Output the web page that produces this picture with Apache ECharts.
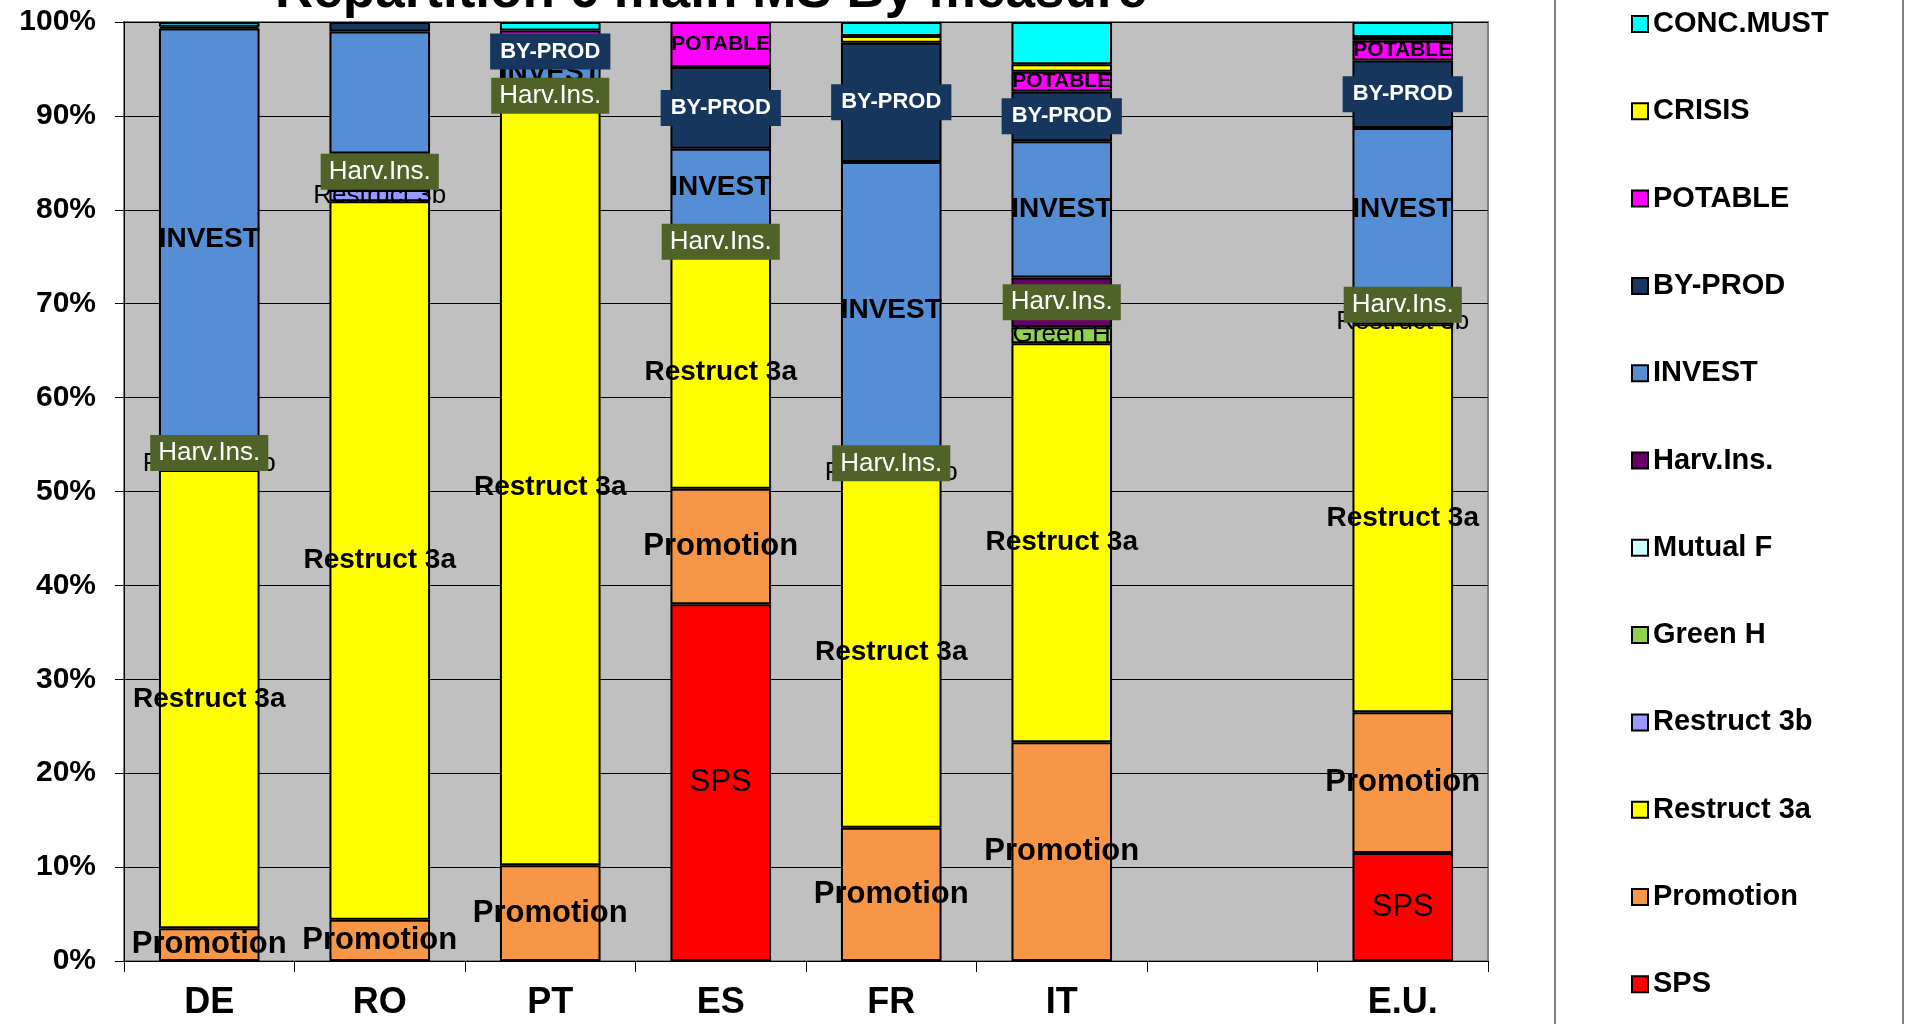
<!DOCTYPE html>
<html>
<head>
<meta charset="utf-8">
<script src="https://cdn.jsdelivr.net/npm/echarts@6/dist/echarts.min.js"></script>
<style>
  html, body { margin: 0; padding: 0; background: #fff; }
  #chart { width: 1905px; height: 1024px; }
</style>
</head>
<body>
<div id="chart"></div>
<script>
// countries (the blank one is the gap before E.U.)
const categories = ['DE', 'RO', 'PT', 'ES', 'FR', 'IT', '', 'E.U.'];
const yTicks = [0, 10, 20, 30, 40, 50, 60, 70, 80, 90, 100];

// share of each measure, in %, bottom of the stack first
const sps        = [0,    0,    0,    38.0, 0,    0,    0, 11.5];
const promotion  = [3.5,  4.4,  10.2, 12.3, 14.2, 23.3, 0, 15.0];
const restruct3a = [48.8, 76.5, 80.6, 24.7, 37.3, 42.5, 0, 41.3];
const restruct3b = [1.4,  1.2,  0,    0,    1.0,  0,    0, 0.6];
const greenH     = [0,    0,    0,    0,    0,    1.7,  0, 0];
const mutualF    = [0,    0,    0,    0,    0,    0,    0, 0];
const harvIns    = [0.8,  3.9,  2.7,  3.2,  1.0,  5.3,  0, 3.0];
const invest     = [44.8, 13.0, 2.0,  8.3,  31.6, 14.5, 0, 17.3];
const byProd     = [0.2,  1.0,  2.7,  8.7,  12.7, 5.3,  0, 7.2];
const potable    = [0,    0,    0.9,  4.8,  0,    2.1,  0, 2.1];
const crisis     = [0,    0,    0,    0,    0.7,  0.8,  0, 0.4];
const concMust   = [0.5,  0,    0.9,  0,    1.5,  4.5,  0, 1.6];

// segments that carry no label in the original
const noLabel = {
  'INVEST': ['RO'],
  'BY-PROD': ['RO'],
  'POTABLE': ['PT']
};

const FONT = '"Liberation Sans", Arial, sans-serif';

const series_defs = [
  { name: 'SPS', data: sps, color: '#FF0000', label: { fontSize: 31 } },
  { name: 'Promotion', data: promotion, color: '#F79646', label: { fontSize: 31, fontWeight: 'bold' } },
  { name: 'Restruct 3a', data: restruct3a, color: '#FFFF00', label: { fontSize: 28, fontWeight: 'bold' } },
  { name: 'Restruct 3b', data: restruct3b, color: '#9999FF', label: { fontSize: 26 } },
  { name: 'Green H', data: greenH, color: '#92D050', label: { fontSize: 26 } },
  { name: 'Mutual F', data: mutualF, color: '#CCFFFF', label: { fontSize: 26 } },
  { name: 'Harv.Ins.', data: harvIns, color: '#660066', z: 4,
    label: { fontSize: 26, color: '#fff', backgroundColor: '#4F6228', padding: [6, 8, 4, 8] } },
  { name: 'INVEST', data: invest, color: '#558ED5', label: { fontSize: 28, fontWeight: 'bold' } },
  { name: 'BY-PROD', data: byProd, color: '#17375E', z: 5,
    label: { fontSize: 22, fontWeight: 'bold', color: '#fff', backgroundColor: '#17365D', padding: [8, 10, 6, 10] } },
  { name: 'POTABLE', data: potable, color: '#FF00FF', label: { fontSize: 21, fontWeight: 'bold' } },
  { name: 'CRISIS', data: crisis, color: '#FFFF00', label: null },
  { name: 'CONC.MUST', data: concMust, color: '#00FFFF', label: null }
];

const series = series_defs.map(d => ({
  name: d.name,
  type: 'bar',
  stack: 'total',
  barWidth: '59%',
  z: d.z || 2,
  itemStyle: { color: d.color, borderColor: '#000', borderWidth: 2 },
  label: {
    show: !!d.label,
    position: 'inside',
    formatter: '{a}',
    color: '#000',
    fontFamily: FONT,
    ...(d.label || {})
  },
  data: d.data.map((v, i) => {
    if (!v) return '-';
    const hide = !d.label || v < 0.5 || (noLabel[d.name] || []).includes(categories[i]);
    return hide ? { value: v, label: { show: false } } : v;
  })
}));

const chart = echarts.init(document.getElementById('chart'));
chart.setOption({
  animation: false,
  backgroundColor: '#fff',
  grid: {
    left: 124, right: 417, top: 22, bottom: 63,
    show: true, backgroundColor: '#C0C0C0', borderColor: '#808080', borderWidth: 2
  },
  legend: {
    orient: 'vertical',
    left: 1631,
    top: 9,
    padding: 0,
    icon: 'rect',
    itemWidth: 16,
    itemHeight: 16,
    itemGap: 57.3,
    data: series_defs.map(d => d.name).reverse(),
    textStyle: { fontFamily: FONT, fontSize: 29, fontWeight: 'bold', color: '#000', lineHeight: 30 }
  },
  xAxis: {
    type: 'category',
    data: categories,
    axisLine: { lineStyle: { color: '#000', width: 1 } },
    axisTick: { show: true, length: 11, lineStyle: { color: '#000' } },
    axisLabel: { fontFamily: FONT, fontSize: 36, fontWeight: 'bold', color: '#000', margin: 24 }
  },
  yAxis: {
    type: 'value',
    min: yTicks[0],
    max: yTicks[yTicks.length - 1],
    interval: 10,
    axisLine: { show: true, lineStyle: { color: '#000', width: 1 } },
    axisTick: { show: true, length: 9, lineStyle: { color: '#000' } },
    splitLine: { lineStyle: { color: '#000', width: 1 } },
    axisLabel: { formatter: '{value}%', fontFamily: FONT, fontSize: 30, fontWeight: 'bold', color: '#000', margin: 28 }
  },
  graphic: [
    {
      type: 'text', x: 711, y: 19, z: 10,
      style: {
        text: 'Repartition 6 main MS By measure',
        font: 'bold 53px ' + FONT, fill: '#000',
        textAlign: 'center', textVerticalAlign: 'bottom'
      }
    },
    { type: 'line', shape: { x1: 1555, y1: 0, x2: 1555, y2: 1024 }, style: { stroke: '#808080', lineWidth: 2 } },
    { type: 'line', shape: { x1: 1903, y1: 0, x2: 1903, y2: 1024 }, style: { stroke: '#808080', lineWidth: 2 } }
  ],
  series: series
});
</script>
</body>
</html>
